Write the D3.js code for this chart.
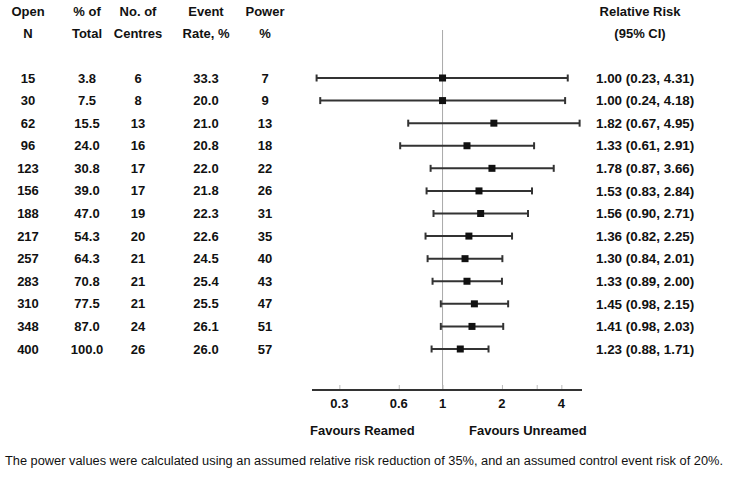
<!DOCTYPE html>
<html>
<head>
<meta charset="utf-8">
<script src="https://cdn.jsdelivr.net/npm/d3@7"></script>
<style>
  body { margin: 0; background: #fff; }
  svg text { font-family: "Liberation Sans", Arial, sans-serif; fill: #111; }
  .bold { font-weight: bold; font-size: 13px; }
  .rrtext { font-weight: bold; font-size: 13.4px; }
</style>
</head>
<body>
<div id="chart"></div>
<script>
// Define SVG area dimensions
var svgWidth = 729;
var svgHeight = 483;

// Table data
var openN    = [15, 30, 62, 96, 123, 156, 188, 217, 257, 283, 310, 348, 400];
var pctTotal = ["3.8", "7.5", "15.5", "24.0", "30.8", "39.0", "47.0", "54.3", "64.3", "70.8", "77.5", "87.0", "100.0"];
var centres  = [6, 8, 13, 16, 17, 17, 19, 20, 21, 21, 21, 24, 26];
var eventRate = ["33.3", "20.0", "21.0", "20.8", "22.0", "21.8", "22.3", "22.6", "24.5", "25.4", "25.5", "26.1", "26.0"];
var power    = [7, 9, 13, 18, 22, 26, 31, 35, 40, 43, 47, 51, 57];

// Relative risk and 95% CI
var rr = [1.00, 1.00, 1.82, 1.33, 1.78, 1.53, 1.56, 1.36, 1.30, 1.33, 1.45, 1.41, 1.23];
var lo = [0.23, 0.24, 0.67, 0.61, 0.87, 0.83, 0.90, 0.82, 0.84, 0.89, 0.98, 0.98, 0.88];
var hi = [4.31, 4.18, 4.95, 2.91, 3.66, 2.84, 2.71, 2.25, 2.01, 2.00, 2.15, 2.03, 1.71];

var tickValues = [0.3, 0.6, 1, 2, 3, 4];
var tickLabels = ["0.3", "0.6", "1", "2", "", "4"];

var svg = d3.select("#chart")
  .append("svg")
  .attr("width", svgWidth)
  .attr("height", svgHeight);

// Scales
var x = d3.scaleLog()
  .domain([0.218, 5.09])
  .range([312, 582]);

var y = d3.scalePoint()
  .domain(d3.range(openN.length))
  .range([78, 349]);

var axisY = 390;

// Column headers
var columns = [
  { x: 28, h1: "Open", h2: "N", vals: openN },
  { x: 87, h1: "% of", h2: "Total", vals: pctTotal },
  { x: 138, h1: "No. of", h2: "Centres", vals: centres },
  { x: 206, h1: "Event", h2: "Rate, %", vals: eventRate },
  { x: 265, h1: "Power", h2: "%", vals: power }
];

columns.forEach(function(col) {
  svg.append("text").attr("class", "bold")
    .attr("x", col.x).attr("y", 16)
    .attr("text-anchor", "middle")
    .text(col.h1);
  svg.append("text").attr("class", "bold")
    .attr("x", col.x).attr("y", 38)
    .attr("text-anchor", "middle")
    .text(col.h2);
  svg.selectAll(null)
    .data(col.vals)
    .enter()
    .append("text")
    .attr("class", "bold")
    .attr("x", col.x)
    .attr("y", (d, i) => y(i))
    .attr("dy", "0.35em")
    .attr("text-anchor", "middle")
    .text(d => d);
});

svg.append("text").attr("class", "bold")
  .attr("x", 640).attr("y", 16)
  .attr("text-anchor", "middle")
  .text("Relative Risk");
svg.append("text").attr("class", "bold")
  .attr("x", 640).attr("y", 38)
  .attr("text-anchor", "middle")
  .text("(95% CI)");

// Reference line at RR = 1
svg.append("line")
  .attr("x1", x(1)).attr("x2", x(1))
  .attr("y1", 30).attr("y2", axisY)
  .attr("stroke", "#aaa")
  .attr("stroke-width", 1);

// Axis
var axisG = svg.append("g")
  .attr("transform", `translate(0, ${axisY})`)
  .call(d3.axisTop(x).tickValues(tickValues).tickSize(5).tickFormat(""));
axisG.select(".domain").remove();
axisG.selectAll(".tick line").attr("stroke", "#bbb");
axisG.append("line")
  .attr("x1", 312).attr("x2", 582)
  .attr("stroke", "#333")
  .attr("stroke-width", 1.8);

svg.selectAll(".ticklab")
  .data(tickValues)
  .enter()
  .append("text")
  .attr("class", "bold")
  .attr("x", d => x(d))
  .attr("y", 408)
  .attr("text-anchor", "middle")
  .text((d, i) => tickLabels[i]);

svg.append("text").attr("class", "bold")
  .attr("x", 310).attr("y", 435)
  .text("Favours Reamed");
svg.append("text").attr("class", "bold")
  .attr("x", 469).attr("y", 435)
  .text("Favours Unreamed");

// CI lines
var rows = svg.selectAll(".row")
  .data(rr)
  .enter()
  .append("g")
  .attr("class", "row");

rows.append("line")
  .attr("x1", (d, i) => x(lo[i]))
  .attr("x2", (d, i) => x(hi[i]))
  .attr("y1", (d, i) => y(i))
  .attr("y2", (d, i) => y(i))
  .attr("stroke", "#333")
  .attr("stroke-width", 2);

[lo, hi].forEach(function(arr) {
  rows.append("line")
    .attr("x1", (d, i) => x(arr[i]))
    .attr("x2", (d, i) => x(arr[i]))
    .attr("y1", (d, i) => y(i) - 3.5)
    .attr("y2", (d, i) => y(i) + 3.5)
    .attr("stroke", "#333")
    .attr("stroke-width", 2);
});

rows.append("rect")
  .attr("x", d => x(d) - 3.5)
  .attr("y", (d, i) => y(i) - 3.5)
  .attr("width", 7)
  .attr("height", 7)
  .attr("fill", "#111");

rows.append("text")
  .attr("class", "rrtext")
  .attr("x", 596)
  .attr("y", (d, i) => y(i))
  .attr("dy", "0.35em")
  .text((d, i) => d.toFixed(2) + " (" + lo[i].toFixed(2) + ", " + hi[i].toFixed(2) + ")");

// Footnote
svg.append("text")
  .attr("x", 5)
  .attr("y", 465)
  .attr("font-size", "12.5px")
  .attr("textLength", 718)
  .attr("lengthAdjust", "spacingAndGlyphs")
  .text("The power values were calculated using an assumed relative risk reduction of 35%, and an assumed control event risk of 20%.");
</script>
</body>
</html>
